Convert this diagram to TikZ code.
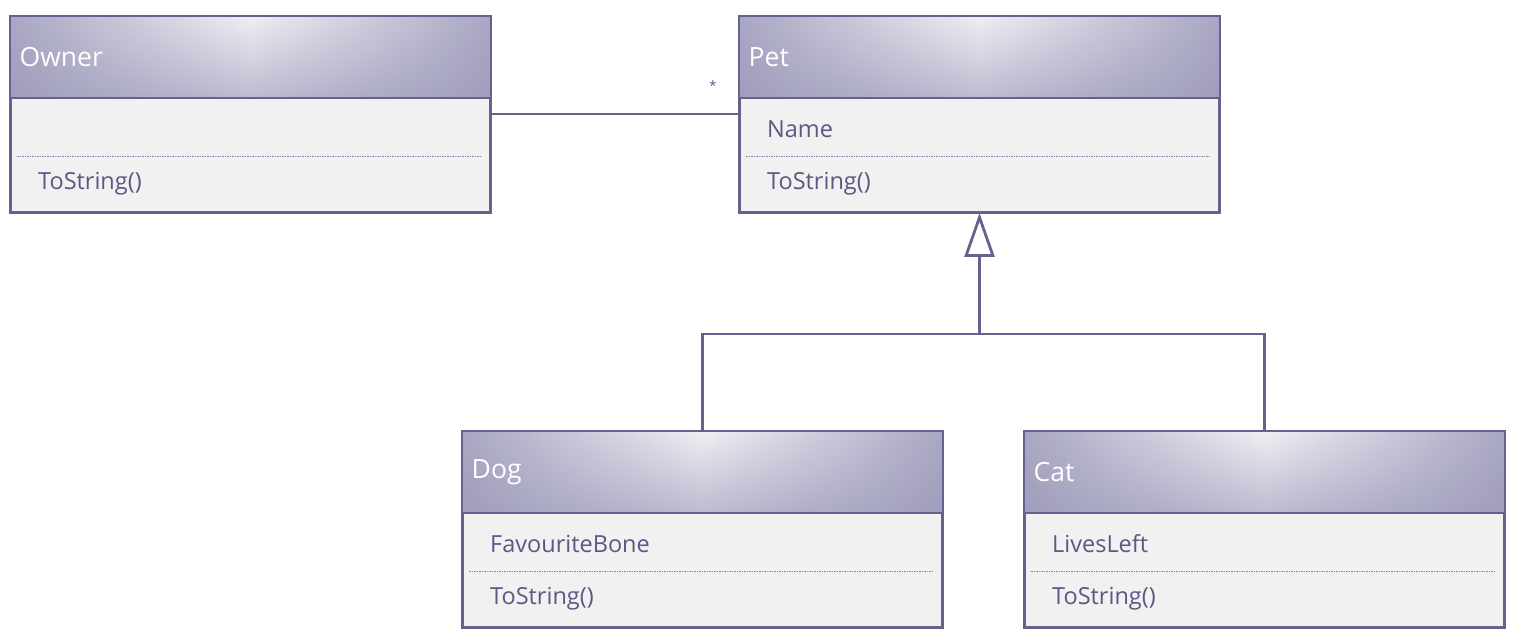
\documentclass[tikz,border=0pt]{standalone}
\usepackage{fontspec}
\setmainfont{Open Sans}
\usetikzlibrary{fadings,arrows.meta}
\definecolor{border}{HTML}{65628F}
\definecolor{hdr}{HTML}{A9A7C3}
\definecolor{hdrlight}{HTML}{EFEFF4}
\definecolor{hdrdk}{HTML}{9A98B8}
\definecolor{bodyfill}{HTML}{F1F1F1}
\definecolor{txt}{HTML}{5B5884}
\tikzfading[name=hdrfade, top color=transparent!100, bottom color=transparent!40]
\tikzset{
  classbox/.style={draw=border, line width=2pt, fill=bodyfill, rectangle, inner sep=0pt,
    minimum width=479pt, minimum height=195pt},
  edge/.style={draw=border, line width=2.8pt},
  thinedge/.style={draw=border, line width=2pt},
  dashline/.style={draw=border!80, line width=0.7pt, dash pattern=on 1.5pt off 1pt},
  titletext/.style={text=white, font=\fontsize{26.5}{31}\selectfont, inner sep=0pt, anchor=west},
  membertext/.style={text=txt, font=\fontsize{23.5}{28}\selectfont, inner sep=0pt, anchor=west}
}
\newcommand{\umlbox}[5]{%
  \node[classbox, anchor=north west] (#1) at (#2,#3) {};
  \coordinate (#1-h) at ([yshift=-82pt]#1.north east);
  \shade[left color=hdr, right color=hdr, middle color=hdrlight] (#1.north west) rectangle (#1-h);
  \fill[hdrdk, path fading=hdrfade] (#1.north west) rectangle (#1-h);
  \draw[thinedge] ([yshift=-82pt]#1.north west) -- (#1-h);
  \draw[dashline] ([xshift=7pt,yshift=-140pt]#1.north west) -- ([xshift=-9pt,yshift=-140pt]#1.north east);
  \node[titletext] (#1-t) at ([xshift=9.5pt,yshift=-41pt]#1.north west) {#4};
  \node[membertext] (#1-a) at ([xshift=28pt,yshift=-113pt]#1.north west) {#5};
  \node[membertext] (#1-o) at ([xshift=28pt,yshift=-168pt]#1.north west) {ToString()};
  \draw[thinedge] (#1.north west) rectangle (#1.south east);
}
\begin{document}
\begin{tikzpicture}[x=1pt, y=-1pt]
\useasboundingbox[fill=white] (0,0) rectangle (1525,644);
\umlbox{owner}{10}{16}{Owner}{}
\umlbox{pet}{739}{16}{Pet}{Name}
\umlbox{dog}{462}{431}{Dog}{FavouriteBone}
\umlbox{cat}{1024}{431}{Cat}{LivesLeft}
% association
\draw[edge] ([yshift=-98pt]owner.north east) -- ([yshift=-98pt]pet.north west);
\node[text=txt, font=\fontsize{13}{14}\selectfont, inner sep=0pt] (star) at (713,86) {*};
% inheritance
\coordinate (junction) at (pet.south |- 0,334);
\draw[edge] (dog.north) |- (junction) -| (cat.north);
\draw[edge, -{Triangle[open, width=30pt, length=44pt, line width=2.8pt]}] (junction) -- (pet.south);
\end{tikzpicture}
\end{document}
